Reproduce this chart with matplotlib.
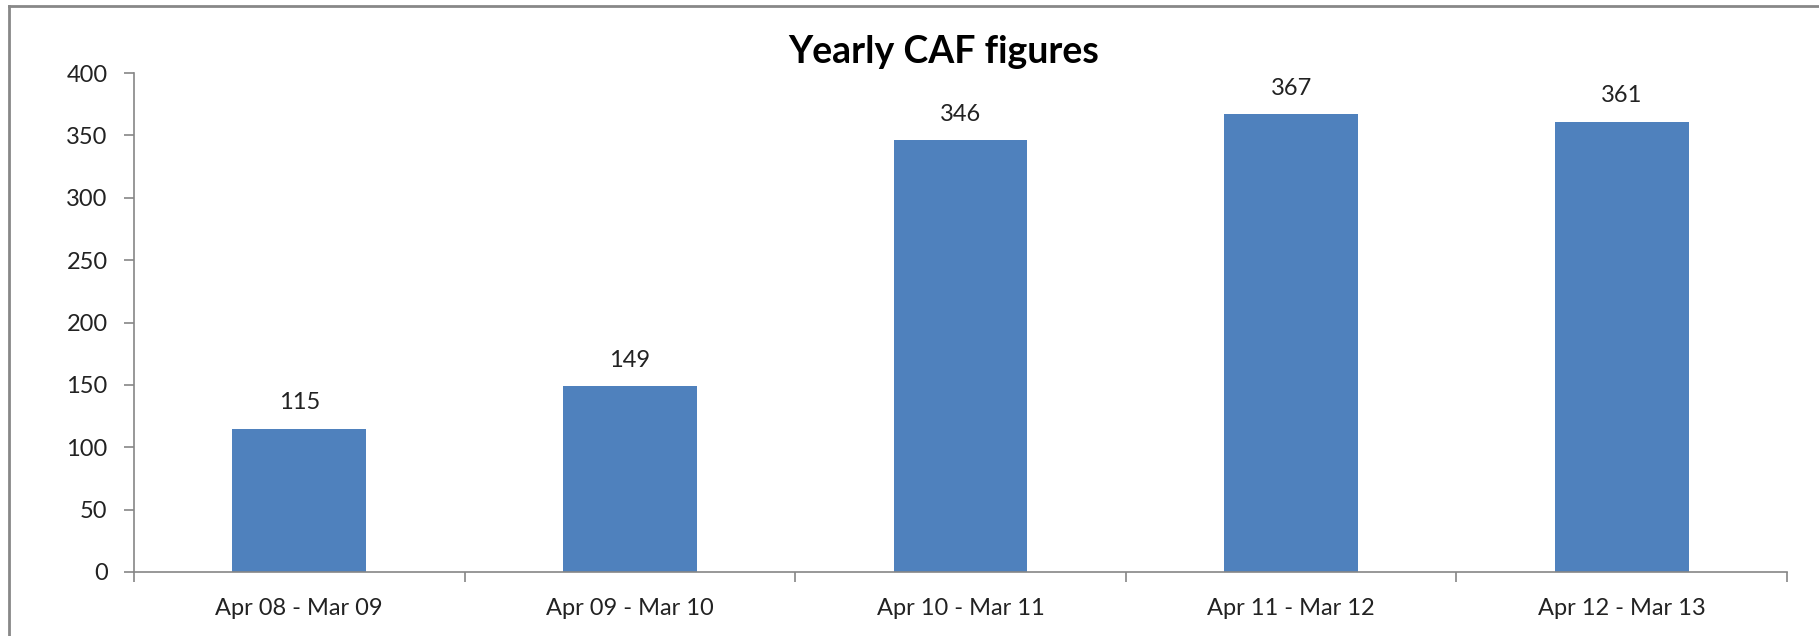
import matplotlib
matplotlib.use("Agg")
import matplotlib.pyplot as plt
from matplotlib.lines import Line2D
import numpy as np

categories = ["Apr 08 - Mar 09", "Apr 09 - Mar 10", "Apr 10 - Mar 11",
              "Apr 11 - Mar 12", "Apr 12 - Mar 13"]
values = [115, 149, 346, 367, 361]
yticks = [0, 50, 100, 150, 200, 250, 300, 350, 400]
title = "Yearly CAF figures"

plt.rcParams['font.family'] = ['Lato', 'DejaVu Sans']

W, H = 1819, 636
fig = plt.figure(figsize=(W / 100, H / 100), dpi=100)
ax = fig.add_axes([134 / W, 1 - 572 / H, (1787 - 134) / W, (572 - 73) / H])

FS = 17
x = np.arange(len(categories))
bars = ax.bar(x, values, width=0.405, color="#4F81BD", zorder=2)
for xi, v in zip(x, values):
    ax.annotate(str(v), (xi, v), xytext=(0, 11), textcoords="offset points",
                ha="center", va="bottom", fontsize=FS, color="#222222")

axis_color = "#868686"
ax.set_xlim(-0.5, len(categories) - 0.5)
ax.set_ylim(0, 400)
ax.set_yticks(yticks)
ax.set_yticklabels([str(t) for t in yticks])
ax.set_xticks(np.arange(-0.5, len(categories)), minor=False)
ax.set_xticklabels([])
ax.set_xticks(x, minor=True)
ax.set_xticklabels(categories, minor=True)
ax.tick_params(axis="x", which="major", length=7, width=1.2, color=axis_color, direction="out")
ax.tick_params(axis="x", which="minor", length=0, pad=19, labelsize=FS, labelcolor="#222222")
ax.tick_params(axis="y", length=7, width=1.2, color=axis_color, direction="out",
               pad=12, labelsize=FS, labelcolor="#222222")
for s in ["top", "right"]:
    ax.spines[s].set_visible(False)
for s in ["left", "bottom"]:
    ax.spines[s].set_color(axis_color)
    ax.spines[s].set_linewidth(1.2)

fig.text(944 / W, 1 - 63 / H, title, ha="center", va="baseline",
         fontsize=27, fontweight="bold", color="#000000")

# outer chart border (top and left visible)
fig.add_artist(Line2D([9 / W, 1.0], [1 - 6 / H, 1 - 6 / H], color="#888888", lw=2,
                      transform=fig.transFigure))
fig.add_artist(Line2D([9 / W, 9 / W], [0.0, 1 - 6 / H], color="#888888", lw=2,
                      transform=fig.transFigure))

fig.savefig("out.png", dpi=100)
